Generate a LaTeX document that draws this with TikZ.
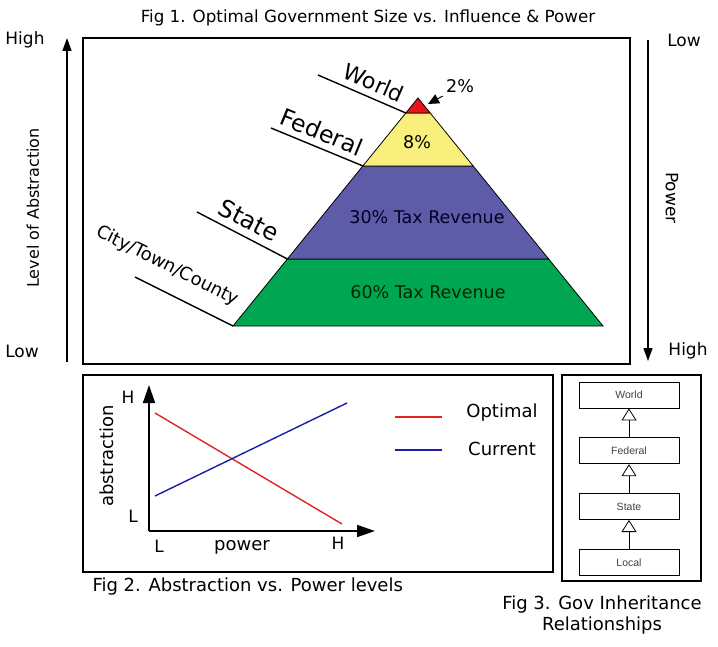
\documentclass[tikz,border=0pt]{standalone}
\usepackage{fontspec}
\setmainfont{DejaVu Sans}
\newfontfamily\boxfont{Liberation Sans}
\usetikzlibrary{arrows.meta, positioning, calc}

\definecolor{topred}{HTML}{E8141B}
\definecolor{fedyellow}{HTML}{F8EF7C}
\definecolor{statepurple}{HTML}{5E5BA8}
\definecolor{localgreen}{HTML}{00A651}
\definecolor{optred}{HTML}{E02424}
\definecolor{curblue}{HTML}{1C1CA8}

\newcommand{\fs}[1]{\fontsize{#1}{1.2\dimexpr#1pt\relax}\selectfont}

\begin{document}
\begin{tikzpicture}[x=1pt, y=-1pt, font=\fs{17}, node distance=29pt,
  frame/.style={draw, line width=2pt},
  leader/.style={line width=1.4pt},
  band/.style={draw, line width=0.8pt},
  tier/.style={sloped, above, inner sep=2pt},
  axis/.style={line width=1.4pt, -{Triangle[length=13pt, width=9pt]}},
  plotaxis/.style={line width=1.6pt, -{Triangle[length=18pt, width=12pt]}},
  uml/.style={draw, line width=0.8pt, minimum width=100pt, minimum height=26pt,
    font=\boxfont\fs{10.5}, text=black!75},
  inherit/.style={line width=0.8pt, -{Triangle[open, fill=white, length=12pt, width=15pt]}}]
\useasboundingbox (0,0) rectangle (718,647);

% fig 1
\node[font=\fs{16.7}] (title1) at (368,18) {Fig 1. Optimal Government Size vs. Influence \& Power};
\draw[frame] (83,38) rectangle (630,364);
\node (highL) at (25,40) {High};
\node (lowL) at (22,351) {Low};
\node (lowR) at (684,40) {Low};
\node (highR) at (688,351) {High};
\coordinate (absbot) at (67,362);
\coordinate (abstop) at (67,38);
\coordinate (powtop) at (648,40);
\coordinate (powbot) at (648,361);
\draw[axis] (absbot) -- (abstop);
\draw[axis] (powtop) -- (powbot);
\node[rotate=90, font=\fs{16}] (abslabel) at (33,208) {Level of Abstraction};
\node[rotate=-90] (powlabel) at (672,198) {Power};

% pyramid
\coordinate (apex) at (418,98);
\coordinate (bl) at (233,326);
\coordinate (br) at (603,326);
\coordinate (w1) at ($(apex)!0.0658!(bl)$);
\coordinate (w2) at ($(apex)!0.0658!(br)$);
\coordinate (f1) at ($(apex)!0.298!(bl)$);
\coordinate (f2) at ($(apex)!0.298!(br)$);
\coordinate (s1) at ($(apex)!0.706!(bl)$);
\coordinate (s2) at ($(apex)!0.706!(br)$);
\draw[band, fill=localgreen] (s1) -- (s2) -- (br) -- (bl) -- cycle;
\draw[band, fill=statepurple] (f1) -- (f2) -- (s2) -- (s1) -- cycle;
\draw[band, fill=fedyellow] (w1) -- (w2) -- (f2) -- (f1) -- cycle;
\draw[band, fill=topred] (apex) -- (w2) -- (w1) -- cycle;
\node[font=\fs{17.5}] (fedpct) at (417,142) {8\%};
\node[font=\fs{17.5}, text=black!85!blue] (statepct) at (427,217) {30\% Tax Revenue};
\node[font=\fs{17.5}, text=black!85!green] (localpct) at (428,292) {60\% Tax Revenue};
\node[font=\fs{17.5}] (worldpct) at (460,86) {2\%};
\coordinate (worldtip) at (428,104);
\draw[line width=1pt, -{Triangle[length=11pt, width=10pt]}] (worldpct.south west) -- (worldtip);

% leaders
\draw[leader] (318,75) -- (w1) node[tier, pos=0.57, above=4pt, font=\fs{22}] {World};
\draw[leader] (271,128) -- (f1) node[tier, pos=0.49, above=4pt, font=\fs{23.5}] {Federal};
\draw[leader] (197,212) -- (s1) node[tier, pos=0.49, above=5pt, font=\fs{24}] {State};
\draw[leader] (135,277) -- (bl) node[tier, pos=0.22, above=13pt, font=\fs{18}] {City/Town/County};

% fig 2
\draw[frame] (83,375) rectangle (553,572);
\coordinate (origin) at (149,531);
\coordinate (ytop) at (149,385);
\coordinate (xend) at (375,531);
\draw[plotaxis] (origin) -- (ytop);
\draw[plotaxis] (origin) -- (xend);
\node (yhigh) at (128,397) {H};
\node (ylow) at (133,516) {L};
\node (xlow) at (159,546) {L};
\node (xhigh) at (338,543) {H};
\node[rotate=90, font=\fs{18}] (ylabel) at (107,456) {abstraction};
\node[font=\fs{18}] (xlabel) at (242,547) {power};
\draw[optred, line width=1.4pt] (155,413) -- (342,524);
\draw[curblue, line width=1.4pt] (155,496) -- (347,403);
\draw[optred, line width=1.4pt] (395,417) -- (442,417);
\draw[curblue, line width=1.4pt] (395,450) -- (442,450);
\node[font=\fs{18}] (optimal) at (502,413) {Optimal};
\node[font=\fs{18}] (current) at (502,449) {Current};
\node[anchor=west, font=\fs{18}] (title2) at (89,587) {Fig 2. Abstraction vs. Power levels};

% fig 3
\draw[frame] (562,375) rectangle (701,581);
\node[uml] (world) at (629,395) {World};
\node[uml, below=of world] (federal) {Federal};
\node[uml, below=of federal] (state) {State};
\node[uml, below=of state] (local) {Local};
\draw[inherit] (federal) -- (world);
\draw[inherit] (state) -- (federal);
\draw[inherit] (local) -- (state);
\node[align=center, font=\fs{18}] (title3) at (602,615) {Fig 3. Gov Inheritance\\Relationships};
\end{tikzpicture}
\end{document}
